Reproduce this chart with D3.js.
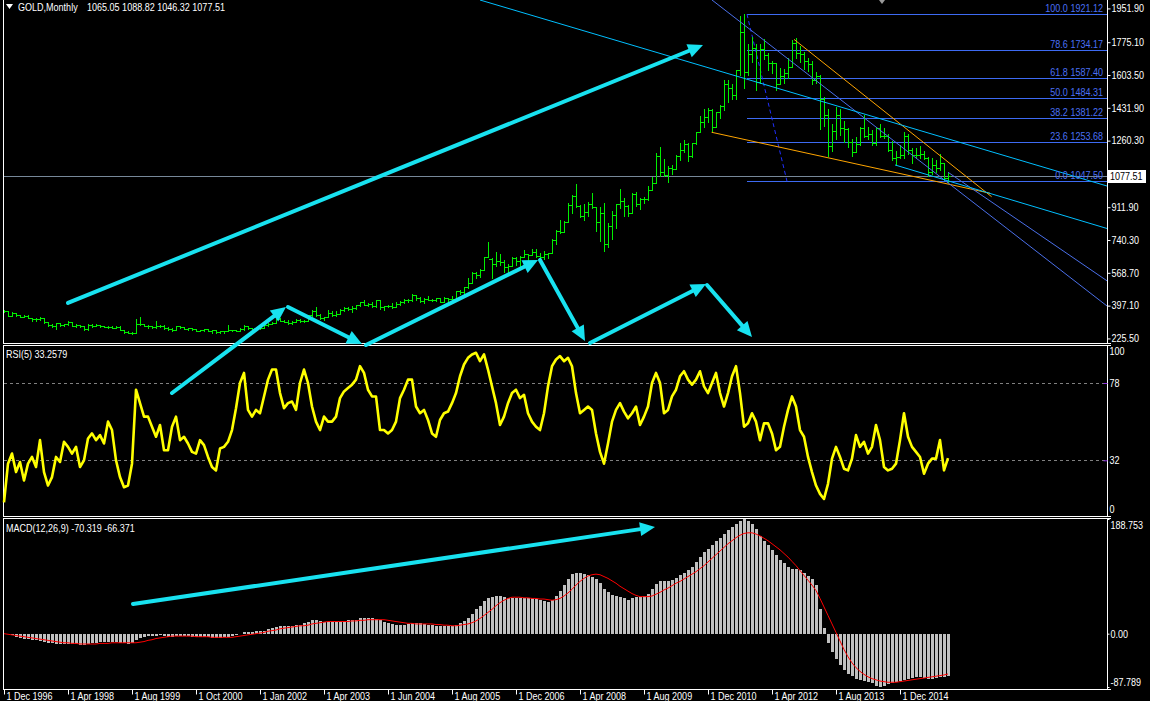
<!DOCTYPE html>
<html><head><meta charset="utf-8">
<script src="https://cdn.jsdelivr.net/npm/d3@7/dist/d3.min.js"></script>
<style>
html,body{margin:0;padding:0;background:#000;overflow:hidden;}
svg{display:block;}
text{font-family:"Liberation Sans",Arial,sans-serif;font-size:10.5px;}
</style></head><body>
<svg id="chart" width="1150" height="701"></svg>
<script>
// ---------------- DATA ----------------
const symbolTitle = "GOLD,Monthly";
const headerValues = "1065.05 1088.82 1046.32 1077.51";
const rsiTitle = "RSI(5) 33.2579";
const macdTitle = "MACD(12,26,9) -70.319 -66.371";

const dateTickLabels = ["1 Dec 1996","1 Apr 1998","1 Aug 1999","1 Oct 2000","1 Jan 2002","1 Apr 2003","1 Jun 2004","1 Aug 2005","1 Dec 2006","1 Apr 2008","1 Aug 2009","1 Dec 2010","1 Apr 2012","1 Aug 2013","1 Dec 2014"];
const dateTickBars = [0,16,32,48,64,80,96,112,128,144,160,176,192,208,224];

const priceTicks = [1951.90,1775.10,1603.50,1431.90,1260.30,911.90,740.30,568.70,397.10,225.50];
const lastPrice = 1077.51;
const rsiTicks = [100,78,32,0];
const rsiLevels = [78,32];
const macdTicks = [188.753,0,-87.789];
const macdTickLabels = ["188.753","0.00","-87.789"];

const fibLevels = ["100.0","78.6","61.8","50.0 ","38.2","23.6","0.0"];
const fibPrices = [1921.12,1734.17,1587.40,1484.31,1381.22,1253.68,1047.50];
const fibStartBar = 185.75;
const fibDiagonal = [[185.75,1921.12],[195.75,1047.50]];

// trend lines as [bar, price] anchor pairs
const cyanLines = [[[119,1995.9],[275.75,1022.9]], [[222.75,1133],[275.75,800.6]]];
const blueLines = [[[177,1995.9],[275.75,395.2]], [[236,1095],[275.75,527]]];
const orangeLines = [[[197.5,1790],[246.9,967]], [[176.9,1304],[246.5,985]]];

// annotation arrows [bar1, value1, bar2, value2]
const arrowsPrice = [[16,411,174.75,1760],[42,-60,70.5,390],[71,390,89.5,196],[90.5,191,133.5,636],[134,636,145.25,212],[146.5,202,175.5,510],[175.75,505,187,233]];
const arrowsMacd = [[32.25,48.8,162.75,175.6]];

const opens = [371,369,345,358,349,340,345,334,326,325,
332,311,296,290,304,297,301,309,293,296,
288,273,294,292,294,288,287,287,279,286,
268,261,255,255,299,299,292,290,283,293,
289,278,275,272,288,283,277,278,273,264,
270,273,266,267,258,262,264,268,271,266,
273,293,279,275,279,282,297,302,308,326,
318,314,304,312,324,317,318,347,368,348,
335,337,361,346,354,375,385,381,386,398,
416,402,404,396,427,388,393,395,391,408,
415,428,425,452,438,422,434,428,427,435,
417,437,430,433,473,470,495,517,568,556,
582,654,643,613,632,624,599,604,646,632,
651,665,662,680,659,650,665,673,743,789,
783,834,923,972,917,865,886,928,913,834,
880,718,815,869,927,942,916,883,979,927,
955,955,1001,1040,1182,1096,1081,1118,1113,1180,
1213,1244,1181,1248,1307,1357,1385,1421,1332,1410,
1439,1556,1536,1500,1628,1826,1620,1714,1746,1565,
1737,1710,1668,1664,1559,1598,1614,1648,1772,1720,
1712,1675,1663,1578,1596,1476,1393,1234,1313,1396,
1326,1323,1253,1202,1244,1326,1284,1296,1250,1327,
1282,1287,1211,1171,1175,1184,1283,1213,1183,1183,
1190,1172,1095,1133,1115,1142,1065.05];
const highs = [372,370,366,360,349,349,346,335,332,338,
333,313,299,306,305,302,316,310,299,298,
289,301,302,299,297,293,291,292,292,292,
268,262,261,326,338,300,294,292,316,298,
294,287,278,292,291,287,281,280,274,271,
275,274,268,268,264,266,294,272,272,279,
294,293,281,281,284,301,304,309,328,330,
322,320,315,326,326,323,349,372,389,354,
340,373,370,368,377,391,390,395,400,417,
427,413,418,427,429,396,400,410,415,421,
433,433,456,455,440,438,446,433,437,437,
441,438,447,474,479,497,541,571,574,588,
654,731,646,676,665,637,614,649,650,656,
690,669,693,691,671,683,674,745,795,846,
838,935,975,1033,925,929,941,988,915,912,
932,830,890,930,1006,962,925,984,990,960,
963,1025,1070,1195,1227,1162,1128,1135,1183,1249,
1265,1246,1250,1308,1388,1424,1431,1424,1412,1448,
1576,1577,1556,1632,1913,1921,1764,1803,1764,1764,
1791,1720,1677,1667,1641,1633,1693,1787,1796,1755,
1726,1694,1677,1617,1605,1488,1424,1348,1434,1424,
1361,1324,1267,1280,1332,1392,1331,1315,1332,1345,
1324,1293,1256,1208,1239,1307,1296,1224,1224,1232,
1205,1175,1170,1157,1191,1142,1088.82];
const lows = [362,341,341,345,337,338,333,318,319,320,
306,293,283,277,290,288,298,291,286,285,
271,272,287,288,285,283,282,278,278,268,
256,252,251,254,296,288,278,281,281,285,
274,272,264,270,280,274,269,268,263,262,
266,263,254,255,256,255,264,264,264,266,
272,277,272,274,276,281,289,300,305,315,
310,300,300,310,311,313,317,344,345,326,
320,337,341,341,353,370,374,365,378,396,
399,396,390,392,381,372,388,385,388,398,
412,418,423,426,418,411,424,422,422,414,
414,416,425,432,456,455,490,516,540,548,
581,649,543,605,612,572,560,603,610,603,
649,636,660,651,640,643,648,672,721,776,
782,833,883,913,861,846,864,908,786,735,
681,705,746,802,906,865,865,883,919,905,
932,950,1001,1040,1075,1075,1044,1087,1111,1159,
1201,1155,1176,1242,1307,1331,1360,1308,1330,1381,
1418,1462,1478,1478,1602,1535,1604,1671,1523,1564,
1687,1628,1613,1527,1555,1564,1586,1645,1692,1672,
1635,1626,1555,1562,1321,1338,1180,1208,1271,1292,
1251,1226,1182,1202,1238,1277,1268,1240,1240,1281,
1273,1206,1161,1131,1170,1167,1191,1142,1170,1169,
1163,1077,1084,1098,1106,1052,1046.32];
const closes = [369,345,358,349,340,345,334,326,325,332,
311,296,290,304,297,301,309,293,296,288,
273,294,292,294,288,287,287,279,286,268,
261,255,255,299,299,292,290,283,293,289,
278,275,272,288,283,277,278,273,264,270,
273,266,267,258,262,264,268,271,266,273,
293,279,275,279,282,297,302,308,326,318,
314,304,312,324,317,318,347,368,348,335,
337,361,346,354,375,385,381,386,398,416,
402,404,396,427,388,393,395,391,408,415,
428,425,452,438,422,434,428,427,435,417,
437,430,433,473,470,495,517,568,556,582,
654,643,613,632,624,599,604,646,632,651,
665,662,680,659,650,665,673,743,789,783,
834,923,972,917,865,886,928,913,834,880,
718,815,869,927,942,916,883,979,927,955,
955,1001,1040,1182,1096,1081,1118,1113,1180,1213,
1244,1181,1248,1307,1357,1385,1421,1332,1410,1439,
1556,1536,1500,1628,1826,1620,1714,1746,1565,1737,
1710,1668,1664,1559,1598,1614,1648,1772,1720,1712,
1675,1663,1578,1596,1476,1393,1234,1313,1396,1326,
1323,1253,1202,1244,1326,1284,1296,1250,1327,1282,
1287,1211,1171,1175,1184,1283,1213,1183,1183,1190,
1172,1095,1133,1115,1142,1065,1077.51];

const rsiValues = [7,30,36,25,31,20,30,34,28,44,
25,17,22,34,31,43,40,36,40,28,
32,45,48,44,47,42,55,50,32,22,
16,17,30,74,66,58,58,52,46,53,
38,38,52,58,44,46,42,37,36,44,
41,34,28,26,39,40,43,50,63,78,
84,62,58,62,60,70,80,86,86,72,
63,66,67,62,78,86,78,64,55,50,
58,55,55,58,69,73,75,77,80,88,
84,74,70,70,50,50,48,50,55,69,
74,80,80,64,60,62,56,48,46,56,
60,61,66,72,82,89,93,95,96,91,
95,86,76,66,53,58,66,72,74,69,
71,60,55,52,50,60,76,88,92,94,
91,93,88,72,60,62,64,62,48,37,
30,42,55,62,66,61,57,60,64,53,
58,64,78,84,78,60,62,70,74,82,
85,80,77,80,85,76,72,78,84,72,
64,72,82,88,72,52,54,60,55,44,
54,54,48,38,40,52,62,70,64,50,
46,34,25,17,12,9,18,33,40,34,
27,26,33,47,40,43,36,40,53,44,
28,26,27,30,44,60,46,40,37,34,
24,30,33,33,44,26,33.2579];

const macdMain = [0,-1,-3,-5,-7,-8,-9,-10,-11,-12,
-13,-15,-16,-17,-17,-17,-17,-17,-17,-18,
-18,-17,-16,-15,-14,-14,-13,-13,-14,-15,
-16,-17,-16,-11,-7,-5,-4,-4,-4,-3,
-4,-5,-5,-4,-4,-4,-4,-5,-6,-6,
-6,-6,-7,-7,-7,-6,-5,-4,-2,0,
2,3,3,4,4,5,7,9,11,12,
12,12,13,14,15,17,20,22,22,21,
20,20,19,19,20,21,22,22,23,25,
25,25,25,24,22,20,18,16,15,15,
15,16,18,18,17,16,15,14,13,12,
12,12,12,14,17,21,26,33,40,46,
54,58,60,62,62,60,58,58,58,58,
58,58,58,57,55,53,52,55,62,70,
80,90,98,100,100,98,96,94,90,84,
74,68,64,62,60,58,56,58,60,60,
62,66,74,82,86,86,86,88,92,96,
100,104,110,118,126,134,140,146,152,158,
164,170,176,181,185,188.753,186,180,172,160,
152,146,137,130,122,116,110,107,106,104,
100,95,90,80,40,10,-15,-30,-42,-52,
-60,-66,-70,-74,-76,-78,-80,-82,-86,-87.789,
-86,-83,-82,-80,-78,-76,-74,-73,-72,-72,
-73,-74,-74,-73,-72,-71,-70.319];

const macdSignal = [0,-1,-2,-3,-4,-5,-6,-7,-8,-9,
-10,-11,-12,-13,-14,-15,-15,-16,-16,-17,
-17,-17,-17,-17,-16,-16,-16,-15,-15,-15,
-15,-15,-15,-15,-14,-13,-11,-10,-8,-7,
-6,-5,-4,-4,-4,-4,-4,-4,-5,-5,
-5,-5,-6,-6,-6,-6,-6,-6,-5,-4,
-3,-2,-1,0,1,2,4,5,6,8,
9,10,11,12,13,13,14,16,17,18,
19,20,20,20,20,20,20,21,21,22,
22,23,23,23,23,23,22,21,20,19,
18,17,17,16,16,16,16,16,15,15,
14,14,13,13,14,15,16,18,21,25,
30,35,40,46,51,55,58,60,60,60,
59,59,58,58,57,57,56,55,56,58,
62,67,73,80,86,91,95,97,98,97,
94,91,87,83,78,74,70,66,63,61,
61,61,62,65,68,72,75,79,83,86,
90,94,98,102,107,112,118,124,130,136,
142,148,153,158,162,165,166,166,164,161,
157,153,148,143,138,132,126,119,112,104,
96,88,80,71,58,44,30,16,2,-12,
-26,-38,-48,-56,-62,-67,-71,-74,-76,-78,
-79,-80,-80,-80,-79,-78,-77,-76,-75,-74,
-73,-72,-71,-70,-69,-68,-66.371];

// ---------------- DRAW ----------------
const svg = d3.select("#chart");
svg.append("rect").attr("width",1150).attr("height",701).attr("fill","#000");

const nBars = closes.length;
const x = d3.scaleLinear().domain([0, nBars-1]).range([4, 948]);
const yP = d3.scaleLinear().domain([1047.50, 1921.12]).range([181.3, 14.3]);
const yR = d3.scaleLinear().domain([32, 78]).range([460.3, 383]);
const yM = d3.scaleLinear().domain([-87.789, 188.753]).range([687, 519]);

const AXIS_X = 1107;
const defs = svg.append("defs");
defs.append("clipPath").attr("id","cp1").append("rect").attr("x",4).attr("y",0).attr("width",AXIS_X-4).attr("height",343);

const borders = svg.append("g").attr("stroke","#fff").attr("stroke-width",1).attr("shape-rendering","crispEdges");
function panelBorder(t,b,drawTop){
  borders.append("line").attr("x1",3.5).attr("x2",3.5).attr("y1",t).attr("y2",b);
  borders.append("line").attr("x1",AXIS_X+0.5).attr("x2",AXIS_X+0.5).attr("y1",t).attr("y2",b);
  if(drawTop) borders.append("line").attr("x1",3).attr("x2",AXIS_X+4).attr("y1",t).attr("y2",t);
  borders.append("line").attr("x1",3).attr("x2",AXIS_X+4).attr("y1",b).attr("y2",b);
}
panelBorder(0,343.5,false);
panelBorder(345.5,516.5,true);
panelBorder(518.5,689.5,true);

// ----- price panel -----
const p1 = svg.append("g").attr("clip-path","url(#cp1)");
p1.append("line").attr("x1",4).attr("x2",AXIS_X).attr("y1",Math.round(yP(lastPrice))+0.5).attr("y2",Math.round(yP(lastPrice))+0.5)
  .attr("stroke","#778899").attr("stroke-width",1).attr("shape-rendering","crispEdges");

const fibColor = "#3d6af2";
p1.selectAll("line.fib").data(fibPrices).join("line").attr("class","fib")
  .attr("x1",x(fibStartBar)).attr("x2",AXIS_X)
  .attr("y1",d=>Math.round(yP(d))+0.5).attr("y2",d=>Math.round(yP(d))+0.5)
  .attr("stroke",fibColor).attr("stroke-width",1).attr("shape-rendering","crispEdges");
p1.append("line")
  .attr("x1",x(fibDiagonal[0][0])).attr("y1",yP(fibDiagonal[0][1]))
  .attr("x2",x(fibDiagonal[1][0])).attr("y2",yP(fibDiagonal[1][1]))
  .attr("stroke","#2030ff").attr("stroke-width",1).attr("stroke-dasharray","4,3");

const barG = p1.append("g").attr("fill","#00ee00").attr("shape-rendering","crispEdges");
d3.range(nBars).forEach(i=>{
  const X = Math.round(x(i));
  const yh = Math.round(yP(highs[i])), yl = Math.round(yP(lows[i]));
  barG.append("rect").attr("x",X).attr("y",yh).attr("width",1).attr("height",Math.max(1,yl-yh+1));
  barG.append("rect").attr("x",X-2).attr("y",Math.round(yP(opens[i]))).attr("width",2).attr("height",1);
  barG.append("rect").attr("x",X+1).attr("y",Math.round(yP(closes[i]))).attr("width",2).attr("height",1);
});

function drawLines(arr,color){
  arr.forEach(l=>{
    p1.append("line").attr("x1",x(l[0][0])).attr("y1",yP(l[0][1])).attr("x2",x(l[1][0])).attr("y2",yP(l[1][1]))
      .attr("stroke",color).attr("stroke-width",1);
  });
}
drawLines(orangeLines,"#ffa500");
drawLines(blueLines,"#4a6fe8");
drawLines(cyanLines,"#00bfff");

const fibText = svg.append("g").attr("fill","#4a70f5").style("white-space","pre");
fibPrices.forEach((p,i)=>{
  const yy = Math.round(yP(p)) - 2.5;
  fibText.append("text").attr("x",1103).attr("y",yy).attr("text-anchor","end").text(fibLevels[i]+" "+d3.format(".2f")(p));
});

svg.append("path").attr("d",`M${x(219.5)-3},0 L${x(219.5)+3},0 L${x(219.5)},4 Z`).attr("fill","#9a9a9a");

const pAxis = svg.append("g").attr("transform",`translate(${AXIS_X+0.5},0)`)
  .call(d3.axisRight(yP).tickValues(priceTicks).tickFormat(d3.format(".2f")).tickSize(3).tickPadding(1));
pAxis.select(".domain").remove();
pAxis.selectAll("line").attr("stroke","#fff");
pAxis.selectAll("text").attr("fill","#fff").attr("font-size",null).attr("font-family",null);

const lpY = Math.round(yP(lastPrice));
svg.append("rect").attr("x",AXIS_X+1).attr("y",lpY-6).attr("width",38).attr("height",13).attr("fill","#fff");
svg.append("text").attr("x",AXIS_X+3).attr("y",lpY+4).attr("fill","#000").text(d3.format(".2f")(lastPrice));

svg.append("path").attr("d","M6,4 L13,4 L9.5,9 Z").attr("fill","#fff");
svg.append("text").attr("x",18).attr("y",11).attr("fill","#fff").text(symbolTitle);
svg.append("text").attr("x",87).attr("y",11).attr("fill","#fff").text(headerValues);

// ----- RSI panel -----
const p2 = svg.append("g");
p2.selectAll("line.lvl").data(rsiLevels).join("line").attr("class","lvl")
  .attr("x1",4).attr("x2",AXIS_X).attr("y1",d=>Math.round(yR(d))+0.5).attr("y2",d=>Math.round(yR(d))+0.5)
  .attr("stroke","#808080").attr("stroke-dasharray","3,3").attr("shape-rendering","crispEdges");
p2.append("path").datum(rsiValues)
  .attr("d",d3.line().x((d,i)=>x(i)).y(d=>yR(d)))
  .attr("fill","none").attr("stroke","#ffff00").attr("stroke-width",2.6).attr("stroke-linejoin","round");
svg.append("text").attr("x",6).attr("y",358).attr("fill","#fff").text(rsiTitle);
const rAxis = svg.append("g").attr("transform",`translate(${AXIS_X+0.5},0)`)
  .call(d3.axisRight(yR).tickValues(rsiTicks).tickFormat(d3.format("d")).tickSize(0).tickPadding(2));
rAxis.select(".domain").remove();
rAxis.selectAll("text").attr("fill","#fff").attr("font-size",null).attr("font-family",null)
  .attr("transform",d=> d===100?"translate(0,5)": d===0?"translate(0,-4.5)":null);
rAxis.selectAll(".tick").filter(d=>d===78||d===32).append("line").attr("x1",-4).attr("x2",0).attr("stroke","#8a2be2");

// ----- MACD panel -----
const p3 = svg.append("g");
const y0 = yM(0);
p3.append("g").attr("fill","#c0c0c0").attr("shape-rendering","crispEdges")
  .selectAll("rect").data(macdMain).join("rect")
  .attr("x",(d,i)=>Math.round(x(i))-1).attr("width",3)
  .attr("y",d=> d>=0? yM(d): y0).attr("height",d=>Math.max(0.5,Math.abs(yM(d)-y0)));
p3.append("path").datum(macdSignal)
  .attr("d",d3.line().x((d,i)=>x(i)).y(d=>yM(d)))
  .attr("fill","none").attr("stroke","#ff0000").attr("stroke-width",1);
svg.append("text").attr("x",6).attr("y",531.5).attr("fill","#fff").text(macdTitle);
const mAxis = svg.append("g").attr("transform",`translate(${AXIS_X+0.5},0)`)
  .call(d3.axisRight(yM).tickValues(macdTicks).tickFormat((d,i)=>macdTickLabels[i]).tickSize(2).tickPadding(1));
mAxis.select(".domain").remove();
mAxis.selectAll("line").attr("stroke","#fff");
mAxis.selectAll("text").attr("fill","#fff").attr("font-size",null).attr("font-family",null)
  .attr("transform",(d,i)=> i===0?"translate(0,6.5)": i===2?"translate(0,-5)":null);

// ----- time axis -----
const tAxis = svg.append("g").attr("transform","translate(0,689.5)")
  .call(d3.axisBottom(x).tickValues(dateTickBars).tickFormat((d,i)=>dateTickLabels[i]).tickSize(5));
tAxis.select(".domain").remove();
tAxis.selectAll("line").attr("stroke","#fff");
tAxis.selectAll("text").attr("fill","#fff").attr("font-size",null).attr("font-family",null)
  .attr("text-anchor","start").attr("x",2).attr("y",10.5).attr("dy",null);

// ----- annotation arrows -----
const arrowColor = "#18e2f0";
const ag = svg.append("g");
function arrow(x1,y1,x2,y2){
  const a = Math.atan2(y2-y1,x2-x1), L=15, Wd=7;
  const bx = x2 - L*Math.cos(a), by = y2 - L*Math.sin(a);
  ag.append("line").attr("x1",x1).attr("y1",y1).attr("x2",bx+2*Math.cos(a)).attr("y2",by+2*Math.sin(a))
    .attr("stroke",arrowColor).attr("stroke-width",4).attr("stroke-linecap","round");
  const px = -Math.sin(a), py = Math.cos(a);
  ag.append("path").attr("d",`M${x2},${y2} L${bx+Wd*px},${by+Wd*py} L${bx-Wd*px},${by-Wd*py} Z`).attr("fill",arrowColor);
}
arrowsPrice.forEach(a=>arrow(x(a[0]),yP(a[1]),x(a[2]),yP(a[3])));
arrowsMacd.forEach(a=>arrow(x(a[0]),yM(a[1]),x(a[2]),yM(a[3])));

// narrow all text horizontally (mimics the condensed terminal font)
svg.selectAll("text").each(function(){
  const t = d3.select(this);
  const tx = +t.attr("x")||0, ty = +t.attr("y")||0;
  const prev = t.attr("transform")||"";
  t.attr("x",0).attr("y",0).attr("transform",`${prev} translate(${tx},${ty}) scale(0.86,1)`);
});
</script>
</body></html>
